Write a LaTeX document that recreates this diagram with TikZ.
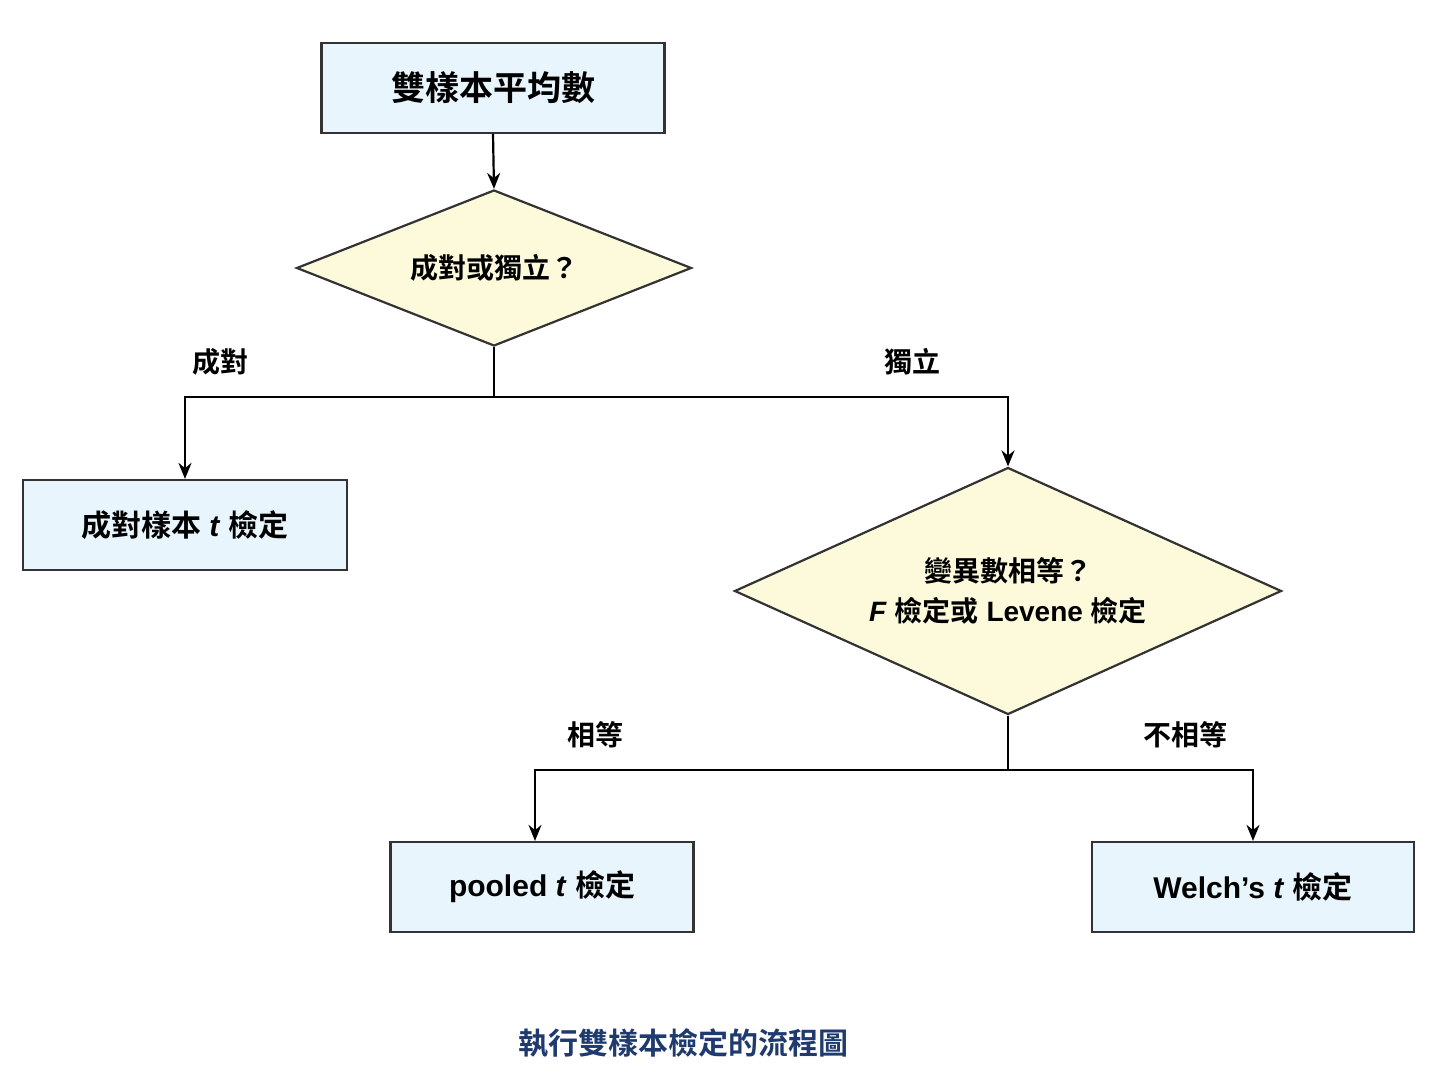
\documentclass[tikz,border=0pt]{standalone}
\usepackage{fontspec}
\setmainfont{Liberation Sans}
\newfontfamily\cjk{Noto Sans CJK TC}[BoldFont={* Bold}]
\usetikzlibrary{shapes.geometric,arrows.meta}
\definecolor{boxfill}{HTML}{E8F5FC}
\definecolor{diafill}{HTML}{FDFADC}
\definecolor{capc}{HTML}{1F3A6E}
\begin{document}
\begin{tikzpicture}[x=1pt,y=-1pt,
 box/.style={draw=black!80,line width=2.2pt,fill=boxfill,minimum height=90pt,inner sep=0pt,font=\bfseries\fontsize{30}{34}\selectfont},
 dia/.style={diamond,draw=black!80,line width=2.2pt,fill=diafill,inner sep=0pt,font=\bfseries\fontsize{28}{40}\selectfont,align=center},
 lbl/.style={font=\cjk\bfseries\fontsize{28}{32}\selectfont},
 arr/.style={line width=2.2pt,-{Stealth[length=16pt,width=13pt]}},
 ln/.style={line width=2.2pt}]
\path[use as bounding box,fill=white] (0,0) rectangle (1448,1086);
\node[box,minimum width=343pt,font=\cjk\bfseries\fontsize{34}{38}\selectfont] (b1) at (493,88) {雙樣本平均數};
\node[dia,minimum width=395pt,minimum height=156pt,aspect=2.53] (d1) at (494,268) {{\cjk 成對或獨立？}};
\node[box,minimum width=324pt] (b2) at (185,525) {{\cjk 成對樣本} \textit{t} {\cjk 檢定}};
\node[dia,minimum width=547pt,minimum height=247pt,aspect=2.21] (d2) at (1008,591) {{\cjk 變異數相等？}\\\textit{F} {\cjk 檢定或} Levene {\cjk 檢定}};
\node[box,minimum width=303pt] (b3) at (542,887) {pooled \textit{t} {\cjk 檢定}};
\node[box,minimum width=322pt] (b4) at (1253,887) {Welch’s \textit{t} {\cjk 檢定}};
\node[lbl] (l1) at (220,362) {成對};
\node[lbl] (l2) at (912,362) {獨立};
\node[lbl] (l3) at (595,735) {相等};
\node[lbl] (l4) at (1185,735) {不相等};
\node[font=\cjk\bfseries\fontsize{30}{34}\selectfont,text=capc] (cap) at (683,1043) {執行雙樣本檢定的流程圖};
\draw[arr] (b1.south) -- (d1.north);
\coordinate (s1) at (494,397);
\coordinate (s2) at (1008,770);
\draw[ln] (d1.south) -- (s1);
\draw[arr] (s1) -| (b2.north);
\draw[arr] (s1) -| (d2.north);
\draw[ln] (d2.south) -- (s2);
\draw[arr] (s2) -| ([xshift=-7pt]b3.north);
\draw[arr] (s2) -| (b4.north);
\end{tikzpicture}
\end{document}
